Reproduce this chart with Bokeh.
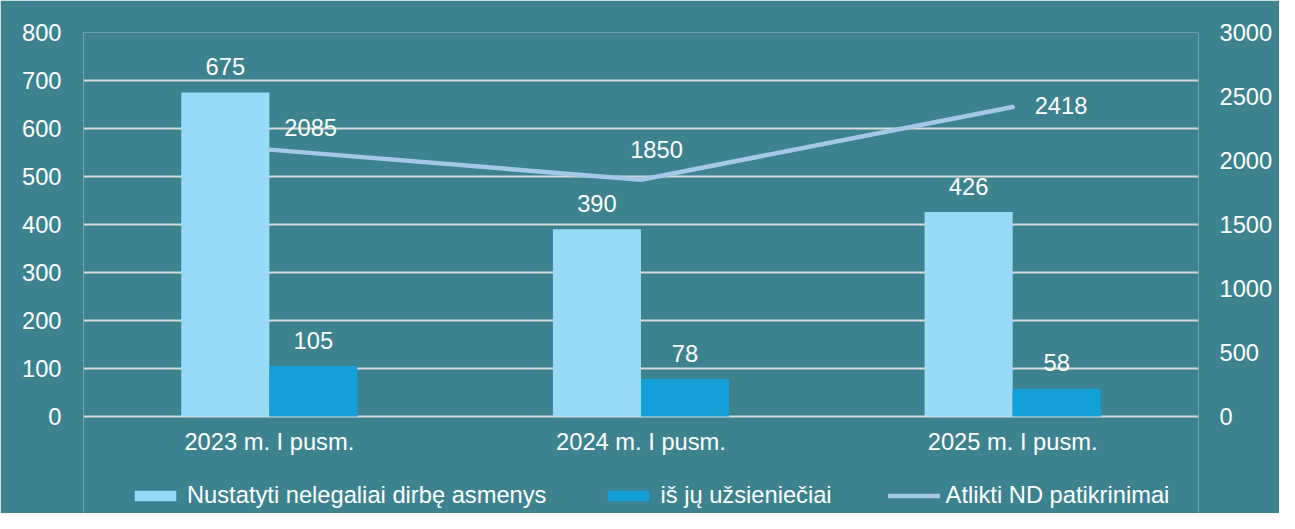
from bokeh.plotting import figure
from bokeh.models import (ColumnDataSource, Range1d, FactorRange, LinearAxis, FixedTicker,
                          Legend, LegendItem)
from bokeh.transform import dodge
from bokeh.core.properties import value
from bokeh.embed import file_html
from bokeh.resources import INLINE

# ---- data ----
categories = ["2023 m. I pusm.", "2024 m. I pusm.", "2025 m. I pusm."]
nustatyti = [675, 390, 426]
uzsienieciai = [105, 78, 58]
patikrinimai = [2085, 1850, 2418]
left_ticks = [0, 100, 200, 300, 400, 500, 600, 700, 800]
right_ticks = [0, 500, 1000, 1500, 2000, 2500, 3000]
series_names = ["Nustatyti nelegaliai dirbę asmenys", "iš jų užsieniečiai", "Atlikti ND patikrinimai"]

# ---- styles / layout ----
BG = "#3C838F"
LIGHT = "#97DBF7"
DARK = "#139FD7"
LINE = "#A5C8E6"
GRID = "#D9D9D9"
FONT = "Liberation Sans"
FS = "23.7px"
line_label_dx = [15, 15.5, 22]
line_label_dy = [-22, -30, -1.5]
line_label_align = ["left", "center", "left"]

W, H = 1279, 513
TOP = 32            # pixel row of the top gridline
ZERO = 416          # pixel row of the zero line
LEFT_MAX, RIGHT_MAX = 800, 3000
below_px = H - ZERO  # frame extends below zero to hold the legend
left_min = -LEFT_MAX * below_px / (ZERO - TOP)
right_min = -RIGHT_MAX * below_px / (ZERO - TOP)

src = ColumnDataSource(dict(cat=categories, a=nustatyti, b=uzsienieciai, c=patikrinimai,
                            al=[str(v) for v in nustatyti], bl=[str(v) for v in uzsienieciai],
                            cl=[str(v) for v in patikrinimai],
                            dx=line_label_dx, dy=line_label_dy, align=line_label_align))

p = figure(width=W, height=H, x_range=FactorRange(*categories, range_padding=0),
           y_range=Range1d(left_min, LEFT_MAX), output_backend="svg", toolbar_location=None,
           min_border_left=83, min_border_right=81, min_border_top=TOP, min_border_bottom=0)
p.background_fill_color = BG
p.border_fill_color = BG
p.outline_line_color = None
p.extra_y_ranges = {"r": Range1d(right_min, RIGHT_MAX)}

w = 0.237
off = 0.1185
r1 = p.vbar(x=dodge("cat", -off, range=p.x_range), top="a", width=w, source=src,
            fill_color=LIGHT, line_color=None)
r2 = p.vbar(x=dodge("cat", off, range=p.x_range), top="b", width=w, source=src,
            fill_color=DARK, line_color=None)
r3 = p.line(x="cat", y="c", source=src, y_range_name="r", line_color=LINE, line_width=4.5,
            line_cap="round", line_join="miter")

p.text(x=dodge("cat", -off, range=p.x_range), y="a", text="al", source=src,
       text_align="center", text_baseline="alphabetic", y_offset=-26,
       text_color="white", text_font=value(FONT), text_font_size=value(FS))
p.text(x=dodge("cat", off, range=p.x_range), y="b", text="bl", source=src,
       text_align="center", text_baseline="alphabetic", y_offset=-26,
       text_color="white", text_font=value(FONT), text_font_size=value(FS))
p.text(x="cat", y="c", text="cl", source=src, y_range_name="r",
       x_offset="dx", y_offset="dy", text_align="align", text_baseline="alphabetic",
       text_color="white", text_font=value(FONT), text_font_size=value(FS))

# grid
p.xgrid.visible = False
p.ygrid.grid_line_color = GRID
p.ygrid.grid_line_width = 2
p.ygrid.ticker = FixedTicker(ticks=left_ticks)

def style_axis(ax, standoff):
    ax.axis_line_color = None
    ax.major_tick_line_color = None
    ax.minor_tick_line_color = None
    ax.major_tick_in = 0
    ax.major_tick_out = 0
    ax.major_label_standoff = standoff
    ax.major_label_text_color = "white"
    ax.major_label_text_font = FONT
    ax.major_label_text_font_size = FS

p.yaxis.ticker = FixedTicker(ticks=left_ticks)
style_axis(p.yaxis[0], 22)
style_axis(p.xaxis[0], 12)
p.xaxis.fixed_location = 0

ra = LinearAxis(y_range_name="r", ticker=FixedTicker(ticks=right_ticks))
style_axis(ra, 21)
p.add_layout(ra, "right")

legend = Legend(items=[LegendItem(label=series_names[0], renderers=[r1]),
                       LegendItem(label=series_names[1], renderers=[r2]),
                       LegendItem(label=series_names[2], renderers=[r3])],
                orientation="horizontal", location=(46, 4),
                glyph_width=52, glyph_height=13, label_standoff=6, spacing=56,
                padding=0, margin=0, border_line_color=None, background_fill_alpha=0,
                label_text_color="white", label_text_font=FONT, label_text_font_size=FS)
p.add_layout(legend, "center")

open("out.html", "w").write(file_html(p, INLINE))
